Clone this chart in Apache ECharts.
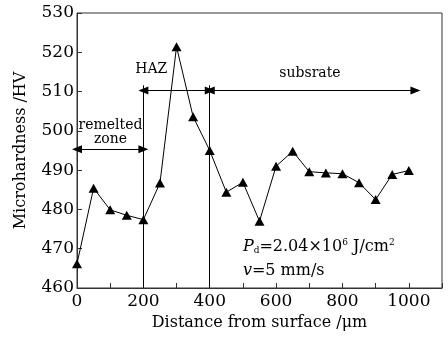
<!DOCTYPE html>
<html>
<head>
<meta charset="utf-8">
<script src="https://cdn.jsdelivr.net/npm/echarts@6/dist/echarts.min.js"></script>
<style>
  html, body { margin: 0; padding: 0; background: #fff; }
  #container { width: 448px; height: 338px; }
</style>
</head>
<body>
<div id="container"></div>
<script>
// distance from surface (um) and microhardness (HV)
var distance = [0, 50, 100, 150, 200, 250, 300, 350, 400, 450, 500, 550, 600, 650, 700, 750, 800, 850, 900, 950, 1000];
var hardness = [466.2, 485.4, 479.9, 478.5, 477.4, 486.7, 521.4, 503.6, 495.0, 484.4, 486.9, 477.0, 491.0, 494.8, 489.6, 489.3, 489.1, 486.8, 482.5, 488.9, 489.9];
var xTicks = [0, 200, 400, 600, 800, 1000];
var yTicks = [460, 470, 480, 490, 500, 510, 520, 530];

// zone boundaries and arrows
var zoneBounds = [200, 400];
var boundTop = 511.6;
var hazArrow = [200, 400, 510.3];
var subArrow = [400, 1020, 510.3];
var remeltArrow = [0, 200, 495.3];

var FONT = 'DejaVu Serif';
var chart = echarts.init(document.getElementById('container'));

var points = distance.map(function (d, i) { return [d, hardness[i]]; });

var lineStyle = { color: '#000', width: 1, type: 'solid' };
var markData = [];
zoneBounds.forEach(function (b) {
  markData.push([{ coord: [b, 460], symbol: 'none' }, { coord: [b, boundTop], symbol: 'none' }]);
});
[hazArrow, subArrow, remeltArrow].forEach(function (a) {
  markData.push([{ coord: [a[0], a[2]] }, { coord: [a[1], a[2]] }]);
});

var option = {
  animation: false,
  grid: { left: 77, right: 6, top: 13, bottom: 50, show: true, borderColor: '#333', borderWidth: 1 },
  xAxis: {
    type: 'value', min: 0, max: 1100, interval: 100,
    name: 'Distance from surface /\u03bcm', nameLocation: 'middle', nameGap: 27,
    nameTextStyle: { fontFamily: FONT, fontSize: 16, color: '#000' },
    axisLine: { lineStyle: { color: '#333' } },
    axisTick: { inside: true, length: 5, lineStyle: { color: '#333' } },
    axisLabel: {
      fontFamily: FONT, fontSize: 17, color: '#000', margin: 5,
      formatter: function (v) { return xTicks.indexOf(v) >= 0 ? String(v) : ''; }
    },
    splitLine: { show: false }
  },
  yAxis: {
    type: 'value', min: 460, max: 530, interval: 10,
    name: 'Microhardness /HV', nameLocation: 'middle', nameGap: 48,
    nameTextStyle: { fontFamily: FONT, fontSize: 16, color: '#000' },
    axisLine: { lineStyle: { color: '#333' } },
    axisTick: { inside: true, length: 5, lineStyle: { color: '#333' } },
    axisLabel: {
      fontFamily: FONT, fontSize: 17, color: '#000', margin: 3,
      formatter: function (v) { return yTicks.indexOf(v) >= 0 ? String(v) : ''; }
    },
    splitLine: { show: false }
  },
  series: [{
    type: 'line',
    data: points,
    symbol: 'triangle',
    symbolSize: [10, 9],
    itemStyle: { color: '#000' },
    lineStyle: { color: '#000', width: 1 },
    markLine: {
      silent: true,
      symbol: ['triangle', 'triangle'],
      symbolSize: [8, 10],
      label: { show: false },
      lineStyle: lineStyle,
      emphasis: { disabled: true },
      data: markData
    }
  }]
};
chart.setOption(option);

function px(x, y) { return chart.convertToPixel({ gridIndex: 0 }, [x, y]); }

function txt(x, y, s, size) {
  var p = px(x, y);
  return {
    type: 'text', x: p[0], y: p[1],
    style: { text: s, fontFamily: FONT, fontSize: size || 14, fill: '#000', align: 'center', verticalAlign: 'middle' }
  };
}
var pd = px(500, 470.5);
var vv = px(500, 464.4);
chart.setOption({
  graphic: [
    txt(101, 501.4, 'remelted'),
    txt(101, 497.8, 'zone'),
    txt(224, 515.6, 'HAZ'),
    txt(702, 514.6, 'subsrate'),
    {
      type: 'text', x: pd[0], y: pd[1],
      style: {
        text: '{i|P}{sub|d}=2.04\u00d710{sup|6} J/cm{sup|2}',
        fontFamily: FONT, fontSize: 16, fill: '#000', verticalAlign: 'middle',
        rich: {
          i: { fontFamily: FONT, fontStyle: 'italic', fontSize: 16, fill: '#000' },
          sub: { fontFamily: FONT, fontSize: 9, fill: '#000', verticalAlign: 'bottom', padding: [8, 0, 0, 0] },
          sup: { fontFamily: FONT, fontSize: 9, fill: '#000', verticalAlign: 'top', padding: [0, 0, 8, 0] }
        }
      }
    },
    {
      type: 'text', x: vv[0], y: vv[1],
      style: {
        text: '{i|v}=5 mm/s',
        fontFamily: FONT, fontSize: 16, fill: '#000', verticalAlign: 'middle',
        rich: { i: { fontFamily: FONT, fontStyle: 'italic', fontSize: 16, fill: '#000' } }
      }
    }
  ]
});
</script>
</body>
</html>
